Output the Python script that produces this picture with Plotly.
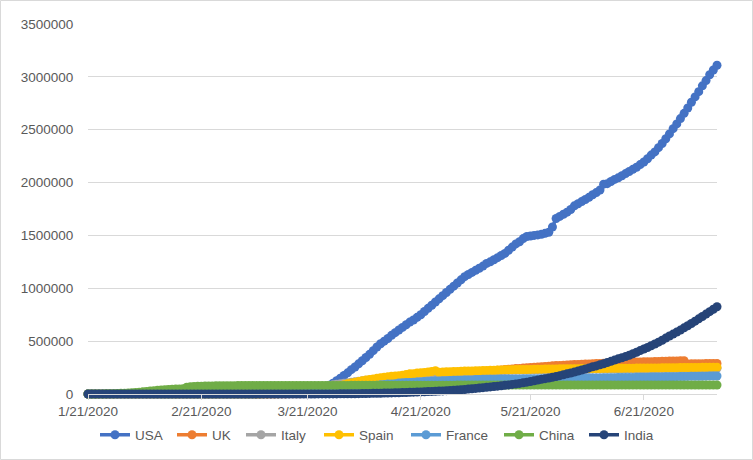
import pandas as pd
import plotly.graph_objects as go

# cumulative confirmed cases, one value per day from 1/21/2020 to 7/11/2020
usa = [
    1, 1, 1, 2, 2, 5, 5, 5, 5, 6, 7,  # Jan 21-31
    8, 11, 11, 11, 12, 12, 12, 12, 12, 12, 13, 13, 14, 14, 15, 15, 15, 15, 15, 15,
    15, 15, 35, 35, 35, 53, 57, 60, 62,  # Feb
    70, 76, 101, 122, 153, 221, 278, 417, 537, 605, 959, 1281, 1663, 2179, 2726, 3499,
    4632, 6421, 7786, 13680, 19101, 25493, 33276, 43847, 53740, 65778, 83836, 101657,
    125000, 150000, 175000,  # Mar
    200000, 230000, 255000, 285000, 315000, 345000, 375000, 410000, 445000, 475000,
    500000, 525000, 555000, 580000, 605000, 630000, 655000, 680000, 700000, 725000,
    750000, 780000, 810000, 840000, 870000, 900000, 930000, 960000, 990000, 1020000,  # Apr
    1050000, 1080000, 1110000, 1130000, 1150000, 1170000, 1190000, 1210000, 1235000, 1250000,
    1270000, 1290000, 1310000, 1330000, 1360000, 1390000, 1420000, 1440000, 1470000, 1490000,
    1495000, 1500000, 1505000, 1510000, 1520000, 1530000, 1580000, 1660000, 1680000, 1700000,
    1720000,  # May
    1745000, 1780000, 1800000, 1820000, 1840000, 1860000, 1885000, 1905000, 1930000, 1985000,
    1990000, 2010000, 2030000, 2045000, 2065000, 2085000, 2105000, 2125000, 2145000, 2170000,
    2195000, 2225000, 2260000, 2290000, 2330000, 2370000, 2415000, 2460000, 2510000, 2555000,  # Jun
    2605000, 2655000, 2705000, 2760000, 2810000, 2860000, 2915000, 2965000, 3020000, 3065000,
    3110000,  # Jul
]

uk = [
    0, 0, 0, 0, 0, 0, 0, 0, 0, 0, 2,
    2, 2, 2, 2, 2, 2, 3, 3, 3, 8, 8, 9, 9, 9, 9, 9, 9, 9, 9, 9,
    9, 9, 13, 13, 13, 13, 15, 20, 23,
    36, 40, 51, 86, 116, 164, 207, 274, 322, 384, 459, 459, 802, 1144, 1145, 1551,
    1960, 2642, 2716, 4014, 5067, 5745, 6726, 8164, 9640, 11812, 14745, 17312,
    19780, 22453, 25481,
    29865, 34173, 38689, 42477, 48440, 52279, 55949, 61474, 65872, 74605,
    79874, 85206, 89570, 94845, 99483, 104145, 109769, 115314, 121172, 125856,
    130172, 134638, 139246, 144640, 149569, 154037, 158348, 162350, 166441, 172481,
    178685, 183500, 187842, 191832, 195524, 199784, 203919, 208314, 212629, 216525,
    220449, 224332, 227741, 230985, 234440, 237071, 240161, 242271, 244995, 247709,
    250138, 252246, 255544, 258504, 260916, 262547, 266599, 268619, 270508, 272826,
    274762,
    276332, 277985, 279856, 281661, 283311, 284868, 286194, 287399, 288834, 290143,
    291409, 292950, 294402, 295889, 296857, 298136, 299251, 300469, 301815, 303110,
    304331, 305289, 306210, 306862, 307980, 309360, 310250, 311151, 311965, 312654,
    313483, 314992, 284276, 285416, 285768, 286349, 286979, 287621, 288133, 288953,
    289603,
]

italy = [
    0, 0, 0, 0, 0, 0, 0, 0, 0, 0, 2,
    2, 2, 2, 2, 2, 2, 3, 3, 3, 3, 3, 3, 3, 3, 3, 3, 3, 3, 3, 3,
    3, 20, 62, 155, 229, 322, 453, 655, 888,
    1128, 1694, 2036, 2502, 3089, 3858, 4636, 5883, 7375, 9172, 10149, 12462, 15113,
    17660, 21157, 24747, 27980, 31506, 35713, 41035, 47021, 53578, 59138, 63927,
    69176, 74386, 80589, 86498, 92472, 97689, 101739,
    105792, 110574, 115242, 119827, 124632, 128948, 132547, 135586, 139422, 143626,
    147577, 152271, 156363, 159516, 162488, 165155, 168941, 172434, 175925, 178972,
    181228, 183957, 187327, 189973, 192994, 195351, 197675, 199414, 201505, 203591,
    205463, 207428, 209328, 210717, 211938, 213013, 214457, 215858, 217185, 218268,
    219070, 219814, 221216, 222104, 223096, 223885, 224760, 225435, 225886, 226699,
    227364, 228006, 228658, 229327, 229858, 230158, 230555, 231139, 231732, 232248,
    232664,
    232997, 233197, 233515, 233836, 234013, 234531, 234801, 234998, 235278, 235561,
    235763, 236142, 236305, 236651, 236989, 237290, 237500, 237828, 238011, 238159,
    238275, 238499, 238720, 238833, 239410, 239706, 239961, 240136, 240310, 240436,
    240578, 240760, 240961, 241184, 241419, 241611, 241819, 241956, 242149, 242363,
    242639,
]

spain = [
    0, 0, 0, 0, 0, 0, 0, 0, 0, 0, 0,
    1, 1, 1, 1, 1, 1, 1, 1, 2, 2, 2, 2, 2, 2, 2, 2, 2, 2, 2, 2,
    2, 2, 2, 2, 2, 6, 13, 15, 32,
    45, 84, 120, 165, 222, 259, 400, 500, 673, 1073, 1695, 2277, 2277, 5232, 6391,
    7798, 9942, 11748, 13910, 17963, 20410, 25374, 28603, 35136, 39885, 49515,
    57786, 65719, 73235, 80110, 87956,
    95923, 104118, 112065, 119199, 126168, 131646, 136675, 141942, 148220, 153222,
    158273, 163027, 166831, 170099, 172541, 177644, 184948, 190839, 191726, 198674,
    200210, 204178, 208389, 213024, 219764, 205905, 207634, 209465, 210773, 212917,
    213435, 215216, 216582, 217466, 218011, 219329, 220325, 221447, 222857, 223578,
    224350, 227436, 228030, 228691, 229540, 230183, 230698, 230698, 231350, 232037,
    232555, 233037, 234824, 235290, 235400, 235772, 236259, 236259, 237906, 238564,
    239228,
    239479, 239638, 239932, 240326, 240660, 240978, 241310, 241550, 241717, 241966,
    242280, 242707, 243209, 243605, 243928, 244109, 244328, 244683, 245268, 245575,
    245938, 246272, 246504, 246752, 247086, 247486, 247905, 248469, 248770, 249271,
    249659, 250103, 250545, 250545, 250545, 251789, 252130, 252513, 253056, 253908,
    253908,
]

france = [
    0, 0, 0, 3, 3, 3, 3, 4, 5, 5, 6,
    6, 6, 6, 6, 6, 6, 11, 11, 11, 11, 11, 11, 11, 11, 12, 12, 12, 12, 12, 12,
    12, 12, 12, 12, 12, 14, 18, 38, 57,
    100, 130, 191, 204, 285, 377, 653, 949, 1126, 1412, 1784, 2281, 2876, 3661, 4499,
    5423, 6633, 7652, 9043, 10871, 12612, 14459, 16018, 19856, 22304, 25233, 29155,
    32964, 37575, 40174, 44550,
    52128, 56989, 59105, 64338, 68605, 70478, 74390, 78167, 82048, 86334,
    90276, 93790, 95403, 98076, 103573, 106206, 108847, 109252, 111821, 112606,
    114657, 117324, 119151, 120804, 122577, 124114, 124575, 125770, 128339, 129581,
    130185, 130979, 131287, 131863, 132967, 137150, 137779, 138421, 138854, 139063,
    139519, 140227, 140734, 141356, 141919, 142291, 142411, 142903, 143427, 143845,
    144163, 144566, 144806, 145279, 145555, 145746, 146122, 146476, 146902, 147091,
    147438,
    148084, 148524, 149071, 149668, 150322, 150967, 151325, 151753, 152444, 152977,
    153634, 154188, 154591, 155136, 155561, 156287, 156813, 157220, 157716, 158174,
    158641, 159452, 160093, 160750, 161348, 161932, 162483, 162936, 163316, 164260,
    164801, 165719, 166378, 166960, 167299, 167605, 168335, 168810, 169473, 170094,
    170752,
]

china = [
    278, 309, 440, 571, 830, 1287, 1975, 2744, 4515, 5974, 7711,
    9692, 11791, 14380, 17205, 20438, 24324, 28018, 31161, 34546, 37198,
    40171, 42638, 44653, 46472, 48467, 49970, 65000, 68500, 70548, 72436,
    74185, 74576, 75465, 76288, 76936, 77150, 77658, 78064, 78497,
    78824, 79251, 79824, 80026, 80151, 80270, 80409, 80552, 80651, 80695,
    80735, 80754, 80790, 80813, 80824, 80844, 80860, 80881, 80894, 80928,
    80967, 81008, 81054, 81093, 81171, 81218, 81285, 81340, 81394, 81439,
    81470,
    81554, 81589, 81620, 81639, 81669, 81708, 81740, 81802, 81865, 81907,
    81953, 82052, 82160, 82249, 82295, 82341, 82692, 83760, 83787, 83805,
    83817, 83853, 83868, 83884, 83899, 83909, 83912, 83918, 83940, 83944,
    83956, 83959, 83964, 83966, 83970, 83975, 83976, 83990, 84010, 84011,
    84018, 84024, 84029, 84038, 84044, 84054, 84063, 84063, 84063, 84081,
    84084, 84095, 84102, 84103, 84103, 84106, 84106, 84121, 84128, 84146,
    84154,
    84159, 84171, 84177, 84186, 84191, 84195, 84198, 84202, 84209, 84216,
    84222, 84228, 84259, 84335, 84378, 84422, 84458, 84494, 84522, 84553,
    84572, 84624, 84653, 84673, 84701, 84725, 84743, 84757, 84780, 84785,
    84816, 84830, 84838, 84857, 84871, 84886, 84917, 84928, 84950, 84992,
    85023,
]

india = [
    0, 0, 0, 0, 0, 0, 0, 0, 0, 1, 1,
    1, 2, 3, 3, 3, 3, 3, 3, 3, 3, 3, 3, 3, 3, 3, 3, 3, 3, 3, 3,
    3, 3, 3, 3, 3, 3, 3, 3, 3,
    3, 5, 5, 28, 30, 31, 34, 39, 43, 56, 62, 73, 82, 102, 113, 119, 142, 156, 194,
    244, 330, 396, 499, 536, 657, 727, 887, 987, 1024, 1251, 1397,
    1998, 2543, 2567, 3082, 3588, 4778, 5311, 5916, 6725, 7598,
    8446, 9205, 10453, 11487, 12322, 13430, 14352, 15722, 17615, 18539,
    20080, 21370, 23077, 24530, 26283, 27890, 29451, 31324, 33062, 34863,
    37257, 39699, 42505, 46437, 49400, 52987, 56351, 59695, 62808, 67161,
    70768, 74292, 78055, 81997, 85784, 90648, 95698, 100328, 106475, 112028,
    118226, 124794, 131423, 138536, 144950, 150793, 158086, 165386, 173491, 181827,
    190609,
    198370, 207191, 216824, 226713, 236184, 246622, 257486, 265928, 276583, 286605,
    297535, 308993, 320922, 332424, 343091, 354065, 366946, 380532, 395048, 410461,
    425282, 440215, 456183, 473105, 490401, 508953, 528859, 548318, 566840, 585481,
    604641, 625544, 646000, 667000, 689000, 711000, 733000, 756000, 779000, 802000,
    825000,
]

countries = ["USA", "UK", "Italy", "Spain", "France", "China", "India"]
colors = ["#4472C4", "#ED7D31", "#A5A5A5", "#FFC000", "#5B9BD5", "#70AD47", "#264478"]
series = [usa, uk, italy, spain, france, china, india]

tick_dates = ["2020-01-21", "2020-02-21", "2020-03-21", "2020-04-21", "2020-05-21", "2020-06-21"]
tick_text = ["1/21/2020", "2/21/2020", "3/21/2020", "4/21/2020", "5/21/2020", "6/21/2020"]

dates = pd.date_range("2020-01-21", periods=len(usa), freq="D")

W, H = 753, 460
L, R, T, B = 88, 36, 24, 66
pw, ph = W - L - R, H - T - B
text_color = "#595959"
grid_color = "#D9D9D9"

# pixel where each legend entry's line starts in the original
legend_px = [101, 178, 247, 325, 412, 505, 590]
legend_y_px = 435

fig = go.Figure()
legends = {}
for i, (name, color, values) in enumerate(zip(countries, colors, series)):
    key = "legend" if i == 0 else f"legend{i + 1}"
    fig.add_trace(go.Scatter(
        x=dates[:len(values)],
        y=values,
        name=name,
        mode="lines+markers",
        line=dict(color=color, width=3.5),
        marker=dict(color=color, size=9, line=dict(width=0)),
        cliponaxis=False,
        legend=key,
    ))
    legends[key] = dict(
        orientation="h",
        x=(legend_px[i] - 6 - L) / pw,
        xanchor="left",
        y=(H - B - legend_y_px) / ph,
        yanchor="middle",
        font=dict(size=13.5, color=text_color),
        bgcolor="rgba(0,0,0,0)",
    )

fig.update_layout(
    width=W,
    height=H,
    margin=dict(l=L, r=R, t=T, b=B, autoexpand=False),
    paper_bgcolor="white",
    plot_bgcolor="white",
    font=dict(family="Liberation Sans, Arial, sans-serif", size=13.5, color=text_color),
    showlegend=True,
    shapes=[dict(
        type="rect",
        xref="paper", yref="paper",
        x0=(0.5 - L) / pw, x1=(W - 0.5 - L) / pw,
        y0=-(B - 0.5) / ph, y1=(H - B - 0.5) / ph,
        line=dict(color=grid_color, width=1),
        layer="below",
    )],
    **legends,
)

fig.update_xaxes(
    type="date",
    range=[dates[0], dates[-1]],
    tickmode="array",
    tickvals=tick_dates,
    ticktext=tick_text,
    showgrid=False,
    showline=True,
    linecolor=grid_color,
    linewidth=1,
    ticks="outside",
    ticklen=5,
    tickcolor=grid_color,
    zeroline=False,
)
fig.update_yaxes(
    range=[0, 3500000],
    dtick=500000,
    tickformat="d",
    showgrid=True,
    gridcolor=grid_color,
    gridwidth=1,
    zeroline=False,
    showline=False,
    ticks="outside",
    ticklen=11,
    tickcolor="rgba(0,0,0,0)",
)

fig.write_html(
    "out.html",
    config={"displayModeBar": False},
    post_script="document.body.style.margin = '0';",
)
